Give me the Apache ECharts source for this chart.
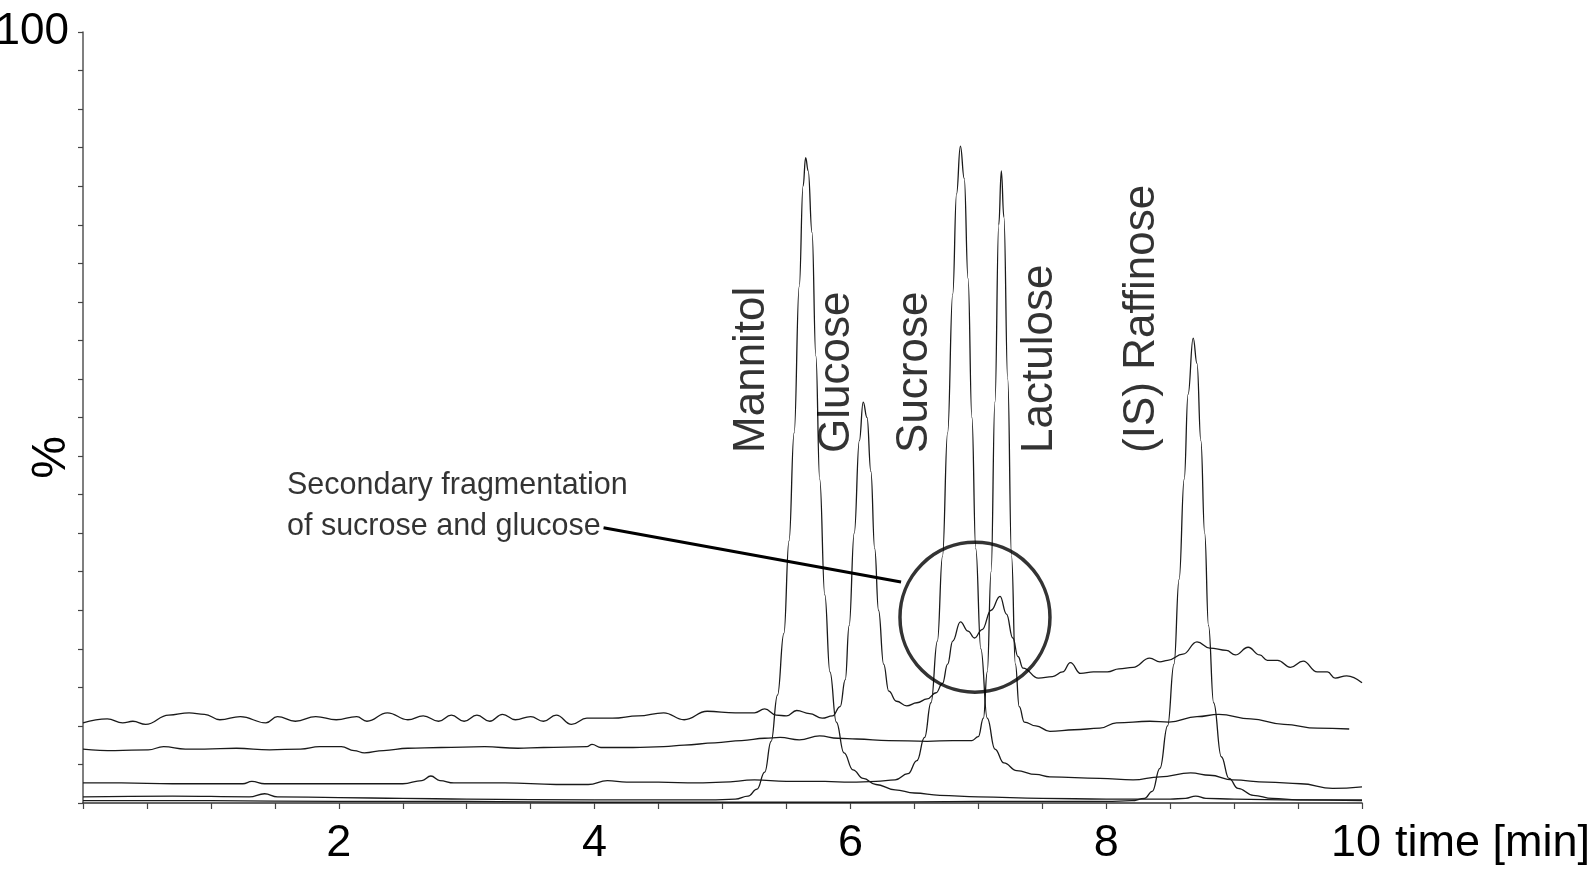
<!DOCTYPE html>
<html><head><meta charset="utf-8">
<script src="https://cdn.jsdelivr.net/npm/echarts@6/dist/echarts.min.js"></script>
<style>html,body{margin:0;padding:0;background:#fff}#chart{width:1588px;height:877px}</style>
</head><body><div id="chart"></div>
<script>
// ---------- data (time in min, intensity in %) ----------
const xTickLabels = [2, 4, 6, 8, 10];
const yTickLabels = [100];

const glucoseTrace = [[0,10.4],[0.19,10.9],[0.31,10.4],[0.39,10.6],[0.49,10.2],[0.67,11.4],[0.83,11.7],[0.95,11.5],[1.07,10.8],[1.23,11.2],[1.43,10.4],[1.52,11.2],[1.66,10.6],[1.82,11.2],[1.98,10.8],[2.14,11.2],[2.22,10.6],[2.38,11.7],[2.54,10.8],[2.66,11.3],[2.78,10.6],[2.88,11.4],[2.98,10.6],[3.08,11.4],[3.18,10.6],[3.28,11.5],[3.38,10.8],[3.5,11.2],[3.6,10.6],[3.7,11.4],[3.82,10.2],[3.94,11.0],[4.14,11.0],[4.34,11.3],[4.54,11.7],[4.7,10.8],[4.88,11.9],[5.1,11.7],[5.25,11.7],[5.33,12.2],[5.42,11.4],[5.5,11.3],[5.58,12.0],[5.68,11.6],[5.78,11.0],[5.86,11.3],[5.92,12.5],[5.96,16],[5.99,23],[6.03,35],[6.07,47],[6.10,52],[6.13,50],[6.16,43],[6.19,33],[6.22,25],[6.26,18],[6.3,14.5],[6.36,13.2],[6.44,12.6],[6.52,13.0],[6.6,13.5],[6.67,14.3],[6.72,15.5],[6.76,18],[6.8,21],[6.86,23.5],[6.92,22.3],[6.97,21.4],[7.03,22.5],[7.1,25],[7.17,26.8],[7.22,24.5],[7.27,21.4],[7.31,19],[7.35,17.5],[7.47,16.2],[7.58,16.4],[7.66,17.0],[7.72,18.2],[7.8,16.8],[7.9,17.0],[8.01,17.0],[8.1,17.4],[8.21,17.6],[8.34,18.8],[8.42,18.3],[8.48,18.5],[8.6,19.3],[8.71,20.9],[8.81,20.1],[8.94,19.8],[9.01,19.2],[9.11,20.2],[9.2,19.2],[9.26,18.5],[9.34,18.5],[9.44,17.6],[9.54,18.4],[9.65,17.0],[9.73,17.0],[9.79,16.2],[9.88,16.5],[10.0,15.6]];

const lactuloseTrace = [[0,7.0],[0.25,6.8],[0.51,6.9],[0.63,7.3],[0.8,7.0],[0.95,7.0],[1.2,7.1],[1.46,6.9],[1.7,7.0],[1.85,7.3],[2.02,7.3],[2.12,6.8],[2.2,6.5],[2.35,6.8],[2.54,7.1],[2.8,7.2],[3.14,7.3],[3.4,7.1],[3.6,7.2],[3.94,7.3],[3.98,7.6],[4.05,7.2],[4.3,7.2],[4.54,7.3],[4.7,7.5],[4.94,7.8],[5.15,8.1],[5.33,8.4],[5.45,8.5],[5.6,8.2],[5.76,8.7],[5.9,8.4],[6.05,8.3],[6.3,8.1],[6.6,8.0],[6.8,8.1],[6.95,8.1],[7.0,8.6],[7.04,11],[7.07,17],[7.1,30],[7.13,52],[7.16,75],[7.18,82],[7.2,76],[7.23,55],[7.26,32],[7.29,18],[7.32,12.5],[7.36,10.5],[7.45,10.0],[7.56,9.3],[7.75,9.5],[7.95,9.7],[8.08,10.4],[8.34,10.6],[8.49,10.5],[8.71,11.2],[8.88,11.5],[9.13,10.9],[9.39,10.2],[9.65,9.7],[9.9,9.6]];

const sucroseTrace = [[0,2.6],[0.3,2.6],[0.7,2.5],[1.25,2.5],[1.32,2.8],[1.42,2.5],[2.0,2.5],[2.5,2.5],[2.65,2.9],[2.72,3.5],[2.79,2.9],[2.9,2.6],[3.3,2.6],[3.7,2.4],[3.95,2.4],[4.1,2.9],[4.25,2.7],[4.5,2.7],[4.8,2.6],[5.0,2.7],[5.25,3.0],[5.5,2.8],[5.8,2.8],[6.0,2.7],[6.2,2.8],[6.35,3.0],[6.45,3.8],[6.52,5.5],[6.58,8.5],[6.63,13],[6.68,21],[6.72,32],[6.76,48],[6.8,66],[6.83,79],[6.86,85.2],[6.89,81],[6.92,68],[6.95,50],[6.98,33],[7.02,20],[7.07,11],[7.13,7],[7.2,5.2],[7.3,4.2],[7.45,3.7],[7.56,3.4],[7.95,3.2],[8.21,3.0],[8.42,3.4],[8.66,3.9],[8.81,3.6],[8.99,3.0],[9.26,2.7],[9.52,2.5],[9.77,1.9],[10.0,2.1]];

const mannitolTrace = [[0,0.8],[0.7,0.9],[1.3,0.8],[1.42,1.2],[1.52,0.8],[2.0,0.7],[2.5,0.6],[3.0,0.5],[4.0,0.4],[4.9,0.4],[5.1,0.5],[5.2,0.9],[5.27,1.8],[5.33,4],[5.38,8],[5.43,14],[5.48,22],[5.52,34],[5.56,48],[5.6,67],[5.63,80],[5.65,83.7],[5.67,82],[5.7,74],[5.73,58],[5.76,42],[5.8,27],[5.84,17],[5.89,10.5],[5.95,6.5],[6.02,4.3],[6.1,3.2],[6.2,2.4],[6.35,1.7],[6.5,1.3],[6.7,1.0],[7.0,0.8],[7.5,0.6],[8.0,0.5],[8.5,0.5],[8.62,0.6],[8.7,0.9],[8.78,0.6],[9.0,0.5],[9.5,0.4],[10,0.4]];

const raffinoseTrace = [[0,0.3],[1.0,0.3],[2.0,0.2],[3.0,0.2],[4.0,0.1],[5.0,0.1],[6.0,0.1],[7.0,0.2],[8.0,0.2],[8.2,0.3],[8.3,0.6],[8.36,1.5],[8.42,4.5],[8.48,10],[8.53,18],[8.57,29],[8.61,42],[8.64,53],[8.68,60.3],[8.71,57],[8.74,47],[8.77,35],[8.8,23],[8.84,13],[8.9,6],[8.96,3.2],[9.03,1.9],[9.15,1.0],[9.3,0.6],[9.5,0.4],[10,0.3]];

// annotations (data units)
const peakNames = ['Mannitol', 'Glucose', 'Sucrose', 'Lactulose', '(IS) Raffinose'];
const peakLabelTimes = [5.23, 5.895, 6.504, 7.48, 8.28];
const peakLabelLevel = 45.4;
const noteLines = ['Secondary fragmentation', 'of sucrose and glucose'];
const noteAnchor = [1.595, 38.5];
const leaderLine = [[4.07, 35.7], [6.396, 28.66]];
const circleCenter = [6.974, 24.1];

// ---------- chart ----------
const FONT = '"Liberation Sans", Arial, Helvetica, sans-serif';
const TXT = '#000';
const chart = echarts.init(document.getElementById('chart'), null, {renderer: 'canvas'});

const traceStyle = {
  type: 'line', showSymbol: false, symbol: 'none', smooth: 0.45, smoothMonotone: 'x',
  silent: true, z: 2, lineStyle: {color: '#1a1a1a', width: 1.3}
};
const traces = [glucoseTrace, lactuloseTrace, sucroseTrace, mannitolTrace, raffinoseTrace];
const xMax = xTickLabels[xTickLabels.length - 1];

const option = {
  animation: false,
  backgroundColor: '#fff',
  grid: {left: 83, right: 226, top: 32, bottom: 74, containLabel: false, outerBoundsMode: 'none'},
  xAxis: {
    type: 'value', min: 0, max: 10, interval: 0.5,
    axisLine: {show: true, lineStyle: {color: '#333', width: 1.6}},
    axisTick: {show: true, length: 6, lineStyle: {color: '#444', width: 1.2}},
    splitLine: {show: false},
    axisLabel: {
      margin: 18, fontSize: 45, lineHeight: 45, color: TXT, fontFamily: FONT, showMaxLabel: true, showMinLabel: true,
      formatter: v => (xTickLabels.indexOf(v) < 0 ? '' : (v === xMax ? '{r|' + v + '}' : String(v))),
      rich: {r: {fontSize: 45, lineHeight: 45, color: TXT, fontFamily: FONT, padding: [0, 12, 0, 0]}}
    },
    name: 'time [min]', nameLocation: 'end', nameGap: 33, nameMoveOverlap: false,
    nameTextStyle: {fontSize: 45, lineHeight: 81, color: TXT, fontFamily: FONT, verticalAlign: 'top', align: 'left'}
  },
  yAxis: {
    type: 'value', min: 0, max: 100, interval: 5,
    axisLine: {show: true, lineStyle: {color: '#555', width: 1.5}},
    axisTick: {show: true, length: 5, lineStyle: {color: '#444', width: 1.2}},
    splitLine: {show: false},
    axisLabel: {
      margin: 14, fontSize: 44, color: TXT, fontFamily: FONT, showMaxLabel: true,
      formatter: v => (yTickLabels.indexOf(v) >= 0 ? String(v) : '')
    },
    name: '%', nameLocation: 'middle', nameRotate: 90, nameGap: 7, nameMoveOverlap: false,
    nameTextStyle: {fontSize: 48, color: TXT, fontFamily: FONT, padding: [0, 80, 0, 0]}
  },
  series: [
    ...traces.map(d => Object.assign({}, traceStyle, {data: d})),
    {
      type: 'line', data: leaderLine, symbol: 'none', showSymbol: false, silent: true, z: 5,
      lineStyle: {color: '#000', width: 3}
    },
    {
      type: 'scatter', data: [circleCenter], symbol: 'circle', symbolSize: 150, silent: true, z: 5,
      itemStyle: {color: 'rgba(0,0,0,0)', borderColor: '#000', borderWidth: 3.5}
    },
    {
      type: 'scatter', symbolSize: 1, silent: true, z: 6,
      itemStyle: {color: 'rgba(0,0,0,0)'},
      data: peakNames.map((n, i) => ({name: n, value: [peakLabelTimes[i], peakLabelLevel]})),
      label: {
        show: true, position: 'inside', rotate: 90, align: 'left', verticalAlign: 'middle',
        fontSize: 44, color: TXT, fontFamily: FONT, formatter: '{b}'
      }
    },
    {
      type: 'scatter', symbolSize: 1, silent: true, z: 6,
      itemStyle: {color: 'rgba(0,0,0,0)'},
      data: [{name: noteLines.join('\n'), value: noteAnchor}],
      label: {
        show: true, position: 'inside', align: 'left', verticalAlign: 'middle',
        fontSize: 30.5, lineHeight: 41, color: TXT, fontFamily: FONT, formatter: '{b}'
      }
    }
  ]
};
chart.setOption(option);
</script>
</body></html>
